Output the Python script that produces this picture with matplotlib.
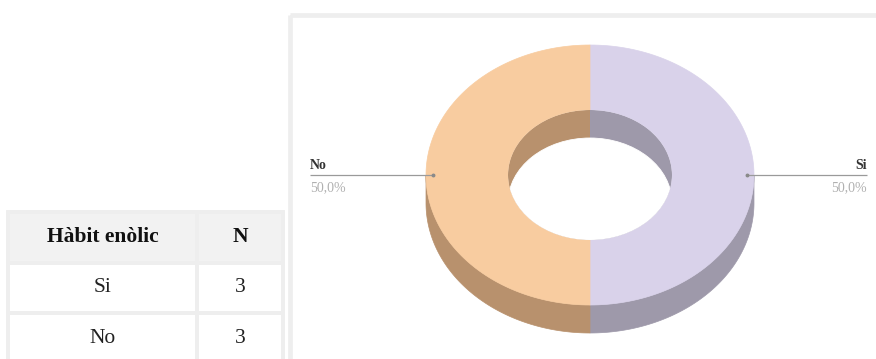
import numpy as np
import matplotlib.pyplot as plt
from matplotlib.patches import Polygon, Rectangle, Ellipse

# Hàbit enòlic: respostes
categories = ['Si', 'No']
counts = [3, 3]
table_header = ['Hàbit enòlic', 'N']

top_colors = ['#D9D2EA', '#F8CCA0']
side_colors = ['#9E99AA', '#B8916D']

W, H = 876, 359
fig = plt.figure(figsize=(W / 100, H / 100), dpi=100)
ax = fig.add_axes([0, 0, 1, 1])
ax.set_xlim(0, W)
ax.set_ylim(H, 0)
ax.axis('off')

# marc del panell del gràfic
ax.add_patch(Rectangle((290, 14.5), 700, 500, fill=False, ec='#EEEEEE', lw=3.4))

# geometria de l'anell en perspectiva
cx, cy = 590, 175
rx, ry = 164, 130
hole = 0.5
depth = 28


def ell(theta_deg, f=1.0, dy=0.0):
    t = np.radians(theta_deg)
    return np.column_stack([cx + f * rx * np.cos(t), cy - f * ry * np.sin(t) + dy])


def arc(a0, a1, f=1.0, dy=0.0, n=120):
    return ell(np.linspace(a0, a1, n), f, dy)


# angles de cada porció (sentit horari des de dalt)
total = sum(counts)
spans = [360 * c / total for c in counts]
starts = 90 - np.concatenate([[0], np.cumsum(spans)[:-1]])
ends = starts - np.array(spans)

# paret exterior (meitat frontal)
for s, e, col in zip(starts, ends, side_colors):
    lo, hi = min(s, e), max(s, e)
    for k in range(-2, 3):
        f0, f1 = max(lo, 180 + 360 * k), min(hi, 360 + 360 * k)
        if f1 > f0:
            pts = np.vstack([arc(f0, f1), arc(f1, f0, dy=depth)])
            ax.add_patch(Polygon(pts, closed=True, fc=col, ec=col, lw=0.5))

# cara superior
for s, e, col in zip(starts, ends, top_colors):
    pts = np.vstack([arc(s, e), arc(e, s, f=hole)])
    ax.add_patch(Polygon(pts, closed=True, fc=col, ec=col, lw=0.5))

# forat central: paret interior i fons
inner = Ellipse((cx, cy), 2 * hole * rx, 2 * hole * ry, fc='none', ec='none')
ax.add_patch(inner)
for s, e, col in zip(starts, ends, side_colors):
    pts = np.vstack([[[cx, cy]], arc(s, e, f=hole)])
    wall = Polygon(pts, closed=True, fc=col, ec='none', lw=0)
    ax.add_patch(wall)
    wall.set_clip_path(inner)
see_through = Ellipse((cx, cy + depth), 2 * hole * rx, 2 * hole * ry, fc='white', ec='white', lw=0.6)
ax.add_patch(see_through)
see_through.set_clip_path(inner)

# etiquetes amb línia guia
serif = ['Liberation Serif', 'DejaVu Serif']
label_x = {'Si': 867, 'No': 310}
for s, e, name, c in zip(starts, ends, categories, counts):
    mid = (s + e) / 2
    px, py = ell(mid, 0.955)[0]
    tx = label_x[name]
    ax.plot([px, tx], [py, py], color='#9A9A9A', lw=0.9, solid_capstyle='butt')
    ax.plot(px, py, 'o', ms=1.8, color='#8A8A8A')
    ha = 'right' if tx > cx else 'left'
    ax.text(tx, py - 3, name, ha=ha, va='bottom', fontsize=10, fontweight='bold',
            family=serif, color='#333333')
    pct = f'{100 * c / total:.1f}%'.replace('.', ',')
    ax.text(tx, py + 6, pct, ha=ha, va='top', fontsize=10, family=serif, color='#B0B0B0')

# taula de freqüències
tax = fig.add_axes([8 / W, -5 / H, 275 / W, 152 / H])
tax.axis('off')
tbl = tax.table(cellText=[[c, str(n)] for c, n in zip(categories, counts)],
                colLabels=table_header, cellLoc='center', colWidths=[0.687, 0.313],
                bbox=[0, 0, 1, 1])
tbl.auto_set_font_size(False)
for (r, col), cell in tbl.get_celld().items():
    cell.set_edgecolor('#EEEEEE')
    cell.set_linewidth(2.8)
    txt = cell.get_text()
    txt.set_fontfamily(serif)
    txt.set_fontsize(15.5)
    txt.set_color('#222222')
    if r == 0:
        cell.set_facecolor('#F2F2F2')
        txt.set_fontweight('bold')
        txt.set_color('#111111')
    else:
        cell.set_facecolor('white')

fig.savefig('out.png', dpi=100)
